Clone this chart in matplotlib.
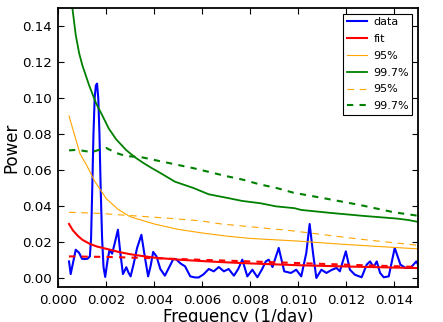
import matplotlib
matplotlib.use('Agg')
import matplotlib.pyplot as plt
from matplotlib.ticker import FormatStrFormatter, MultipleLocator
import numpy as np

# periodogram (blue)
freq_data = [0.00044, 0.00051, 0.00060, 0.00072, 0.00086, 0.00098, 0.00110, 0.00121, 0.00131,
             0.00136, 0.00141, 0.00146, 0.00151, 0.00156, 0.00161, 0.00166, 0.00171, 0.00176,
             0.00182, 0.00188, 0.00195, 0.00205, 0.00213, 0.00224, 0.00236, 0.00248, 0.00258,
             0.00269, 0.00276, 0.00283, 0.00292, 0.00301, 0.00314, 0.00328, 0.00346, 0.00360,
             0.00374, 0.00385, 0.00395, 0.00409, 0.00425, 0.00444, 0.00462, 0.00479, 0.00490,
             0.00510, 0.00528, 0.00550, 0.00570, 0.00585, 0.00605, 0.00627, 0.00648, 0.00669,
             0.00690, 0.00710, 0.00732, 0.00750, 0.00767, 0.00788, 0.00809, 0.00830, 0.00850,
             0.00865, 0.00877, 0.00893, 0.00919, 0.00942, 0.00970, 0.00992, 0.01013, 0.01034,
             0.01048, 0.01062, 0.01076, 0.01097, 0.01118, 0.01140, 0.01160, 0.01174, 0.01199,
             0.01216, 0.01237, 0.01265, 0.01286, 0.01300, 0.01315, 0.01328, 0.01342, 0.01357,
             0.01378, 0.01403, 0.01427, 0.01448, 0.01469, 0.01493, 0.01510]
power_data = [0.0092, 0.0022, 0.0080, 0.0157, 0.0140, 0.0107, 0.0105, 0.0107, 0.0120,
              0.0220, 0.0500, 0.0800, 0.1000, 0.1070, 0.1080, 0.1000, 0.0800, 0.0500,
              0.0220, 0.0060, 0.0006, 0.0100, 0.0157, 0.0135, 0.0200, 0.0268, 0.0140,
              0.0022, 0.0040, 0.0060, 0.0030, 0.0009, 0.0080, 0.0167, 0.0240, 0.0120,
              0.0009, 0.0070, 0.0145, 0.0120, 0.0050, 0.0013, 0.0060, 0.0105, 0.0105,
              0.0080, 0.0065, 0.0009, 0.0003, 0.0003, 0.0020, 0.0050, 0.0037, 0.0061,
              0.0037, 0.0050, 0.0013, 0.0050, 0.0102, 0.0009, 0.0046, 0.0004, 0.0050,
              0.0092, 0.0102, 0.0061, 0.0167, 0.0037, 0.0028, 0.0046, 0.0009, 0.0139,
              0.0300, 0.0139, 0.0000, 0.0046, 0.0028, 0.0045, 0.0056, 0.0037, 0.0148,
              0.0046, 0.0018, 0.0004, 0.0074, 0.0092, 0.0061, 0.0092, 0.0028, 0.0004,
              0.0009, 0.0167, 0.0074, 0.0056, 0.0056, 0.0092, 0.0050]

# fit (red solid)
freq_fit = [0.00044, 0.0006, 0.0008, 0.0010, 0.0013, 0.0016, 0.0020, 0.0025, 0.0030, 0.0035,
            0.0040, 0.0050, 0.0060, 0.0070, 0.0080, 0.0090, 0.0100, 0.0120, 0.0140, 0.0151]
power_fit = [0.0300, 0.0265, 0.0235, 0.0212, 0.0190, 0.0175, 0.0162, 0.0145, 0.0132, 0.0122,
             0.0113, 0.0102, 0.0094, 0.0087, 0.0081, 0.0076, 0.0071, 0.0064, 0.0058, 0.0055]

# second fit (red dashed)
freq_fit2 = [0.00044, 0.002, 0.004, 0.006, 0.008, 0.010, 0.012, 0.0151]
power_fit2 = [0.0120, 0.0117, 0.0110, 0.0101, 0.0092, 0.0083, 0.0074, 0.0061]

# 95% levels (orange)
freq_95 = [0.00044, 0.0009, 0.0012, 0.0015, 0.0020, 0.0025, 0.0030, 0.0040, 0.0050,
           0.0060, 0.0070, 0.0080, 0.0100, 0.0120, 0.0151]
power_95 = [0.0900, 0.0690, 0.0620, 0.0540, 0.0440, 0.0380, 0.0340, 0.0300, 0.0270,
            0.0250, 0.0233, 0.0220, 0.0205, 0.0186, 0.0161]
freq_95b = [0.00044, 0.0017, 0.0031, 0.0045, 0.0059, 0.0068, 0.0097, 0.0125, 0.0151]
power_95b = [0.0365, 0.0359, 0.0346, 0.0333, 0.0318, 0.0300, 0.0263, 0.0217, 0.0180]

# 99.7% levels (green)
freq_997 = [0.00044, 0.00058, 0.00072, 0.00086, 0.00100, 0.00128, 0.00157, 0.00184, 0.00210,
            0.00241, 0.00283, 0.00320, 0.00353, 0.00390, 0.00423, 0.00486, 0.00563, 0.00627,
            0.00704, 0.00767, 0.00844, 0.00907, 0.00984, 0.01013, 0.01132, 0.01272, 0.01413,
            0.01460, 0.01511]
power_997 = [0.1650, 0.1500, 0.1350, 0.1250, 0.1180, 0.1070, 0.0970, 0.0900, 0.0830,
             0.0770, 0.0710, 0.0670, 0.0640, 0.0610, 0.0585, 0.0535, 0.0500, 0.0465,
             0.0445, 0.0428, 0.0415, 0.0398, 0.0388, 0.0378, 0.0362, 0.0345, 0.0330,
             0.0322, 0.0309]
freq_997b = [0.00044, 0.0008, 0.0011, 0.0014, 0.0017, 0.0020, 0.0024, 0.0028, 0.0035,
             0.0042, 0.0056, 0.0070, 0.0077, 0.0084, 0.0091, 0.0098, 0.0112, 0.0126,
             0.0140, 0.0151]
power_997b = [0.0709, 0.0712, 0.0705, 0.0700, 0.0712, 0.0722, 0.0695, 0.0678, 0.0670,
              0.0650, 0.0611, 0.0566, 0.0546, 0.0520, 0.0500, 0.0474, 0.0440, 0.0405,
              0.0365, 0.0344]

fig = plt.figure(figsize=(4.43, 3.22), dpi=100)
ax = fig.add_axes([0.132, 0.1087, 0.8115, 0.8665])

ax.plot(freq_data, power_data, color='b', lw=1.5, label='data')
ax.plot(freq_fit, power_fit, color='r', lw=1.5, label='fit')
ax.plot(freq_95, power_95, color='orange', lw=0.8, label='95%')
ax.plot(freq_997, power_997, color='g', lw=1.3, label='99.7%')
ax.plot(freq_95b, power_95b, color='orange', lw=0.8, dashes=(6, 5), label='95%')
ax.plot(freq_997b, power_997b, color='g', lw=1.5, dashes=(3, 3), label='99.7%')
ax.plot(freq_fit2, power_fit2, color='r', lw=1.5, dashes=(3, 3))

ax.set_xlim(0, 0.015)
ax.set_ylim(-0.005, 0.15)
ax.xaxis.set_major_locator(MultipleLocator(0.002))
ax.yaxis.set_major_locator(MultipleLocator(0.02))
ax.xaxis.set_major_formatter(FormatStrFormatter('%.3f'))
ax.yaxis.set_major_formatter(FormatStrFormatter('%.2f'))
ax.tick_params(direction='in', top=True, right=True, labelsize=9.6, length=4, pad=5)
for s in ax.spines.values():
    s.set_linewidth(1.3)

ax.set_xlabel('Frequency (1/day)', fontsize=12, labelpad=1)
ax.set_ylabel('Power', fontsize=12, labelpad=1)

leg = ax.legend(loc='upper right', fontsize=8, fancybox=False, framealpha=1,
                edgecolor='black', handlelength=1.8, handletextpad=0.6,
                borderpad=0.3, labelspacing=0.62, borderaxespad=0.5)
leg.get_frame().set_linewidth(0.8)

fig.savefig('out.png', dpi=100)
